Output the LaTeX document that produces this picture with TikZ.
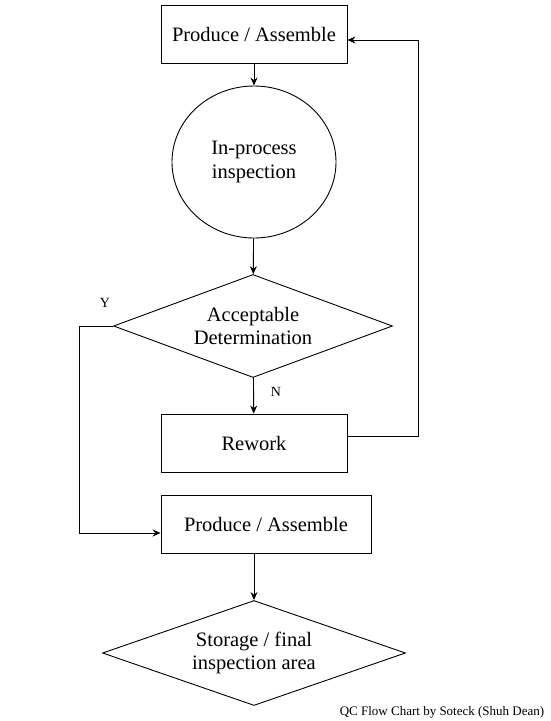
\documentclass[tikz,border=0pt]{standalone}
\usepackage{fontspec}
\setmainfont{Liberation Serif}
\usetikzlibrary{shapes.geometric,arrows.meta}

\begin{document}
\begin{tikzpicture}[x=1pt,y=-1pt,>={Stealth[length=8pt,width=7pt]}, line join=miter, line width=0.9pt,
    font=\fontsize{20.5}{23.5}\selectfont,
    box/.style={draw,minimum width=186pt,minimum height=58pt,inner sep=0pt},
    check/.style={draw,ellipse,minimum width=164pt,minimum height=152pt,inner sep=0pt,align=center},
    decide/.style={draw,diamond,inner sep=0pt,label={[align=center]center:#1}}]
    \useasboundingbox (0,0) rectangle (550,721);
    %\draw[gray!40] (0,0) grid[step=50] (550,721);
    \node[box] (make) at (254,34) {Produce / Assemble};
    \node[check] (inspect) at (254,162) {In-process\\inspection};
    \node[decide={Acceptable\\Determination},minimum width=279pt,minimum height=103pt] (accept) at (253,326) {};
    \node[box] (rework) at (254,443) {Rework};
    \node[box,minimum width=210pt] (make2) at (266,524) {Produce / Assemble};
    \node[decide={Storage / final\\inspection area},minimum width=303pt,minimum height=105pt] (store) at (254,653) {};
    \node (yes) at (105,303) {\fontsize{14}{16}\selectfont Y};
    \node (no) at (276,392) {\fontsize{14}{16}\selectfont N};
    \node[anchor=east] (credit) at (548,712) {\fontsize{13}{15}\selectfont QC Flow Chart by Soteck (Shuh Dean)};
    \coordinate (back) at (418,40);
    \coordinate (rwout) at (418,436);
    \coordinate (ycorner) at (79,326);
    \coordinate (ybottom) at (79,533);
    \draw[->] (make) -- (inspect);
    \draw[->] (inspect) -- (accept);
    \draw[->] (accept) -- (rework);
    \draw[->] (rework.east |- rwout) -- (rwout) -- (back) -- (make.east |- back);
    \draw[->] (accept.west) -- (ycorner) -- (ybottom) -- (make2.west |- ybottom);
    \draw[->] (make2.south -| store.north) -- (store.north);
\end{tikzpicture}
\end{document}
